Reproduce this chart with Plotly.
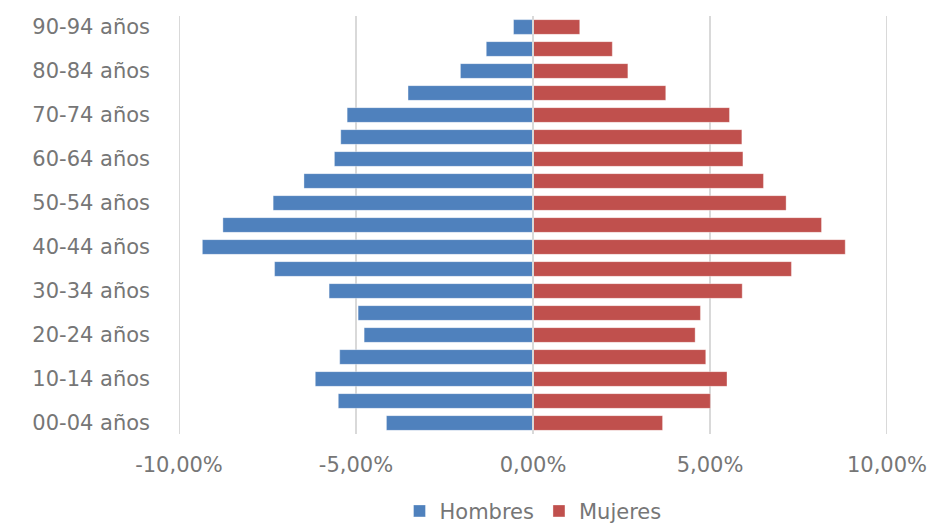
import plotly.graph_objects as go

categories = ["00-04 años", "05-09 años", "10-14 años", "15-19 años", "20-24 años",
              "25-29 años", "30-34 años", "35-39 años", "40-44 años", "45-49 años",
              "50-54 años", "55-59 años", "60-64 años", "65-69 años", "70-74 años",
              "75-79 años", "80-84 años", "85-89 años", "90-94 años"]

hombres = [-4.14, -5.50, -6.15, -5.46, -4.77, -4.94, -5.76, -7.30, -9.34, -8.76,
           -7.34, -6.47, -5.61, -5.43, -5.25, -3.53, -2.05, -1.32, -0.55]
mujeres = [3.66, 5.01, 5.48, 4.88, 4.58, 4.73, 5.91, 7.30, 8.82, 8.15,
           7.15, 6.51, 5.93, 5.90, 5.55, 3.75, 2.68, 2.24, 1.32]

x_ticks = [-10, -5, 0, 5, 10]
x_ticktext = ["-10,00%", "-5,00%", "0,00%", "5,00%", "10,00%"]
y_ticks = categories[::2]

font_family = "DejaVu Sans"
gray = "#767676"
grid = "#d9d9d9"

fig = go.Figure()
fig.add_trace(go.Bar(y=categories, x=hombres, name="Hombres", orientation="h",
                     marker=dict(color="#4F81BD", line=dict(color="rgba(255,255,255,0.35)", width=1))))
fig.add_trace(go.Bar(y=categories, x=mujeres, name="Mujeres", orientation="h",
                     marker=dict(color="#C0504D", line=dict(color="rgba(255,255,255,0.35)", width=1))))

# edge gridlines (plotly omits gridlines lying exactly on the range edges)
for xv in (x_ticks[0], x_ticks[-1]):
    fig.add_shape(type="line", xref="x", yref="paper", x0=xv, x1=xv, y0=0, y1=1,
                  line=dict(color=grid, width=2), layer="below")
fig.add_shape(type="line", xref="x", yref="paper", x0=0, x1=0, y0=0, y1=1,
              line=dict(color=grid, width=2), layer="above")

fig.update_layout(
    width=930, height=526,
    margin=dict(l=179, r=43, t=16, b=92, autoexpand=False),
    barmode="overlay", bargap=0.33,
    plot_bgcolor="white", paper_bgcolor="white",
    font=dict(family=font_family, color=gray, size=21),
    showlegend=True,
    legend=dict(orientation="h", x=0.5, xanchor="center", yref="container", y=0.028,
                yanchor="middle", font=dict(size=21, color=gray), traceorder="normal",
                itemwidth=30, tracegroupgap=0),
    xaxis=dict(range=[-10, 10], tickvals=x_ticks, ticktext=x_ticktext,
               showgrid=True, gridcolor=grid, gridwidth=2, zeroline=False,
               showline=False, ticks="", ticklabelstandoff=16, automargin=False,
               tickfont=dict(size=21, color=gray)),
    yaxis=dict(type="category", categoryorder="array", categoryarray=categories,
               tickvals=y_ticks, showgrid=False, zeroline=False, showline=False,
               ticks="", ticklabelstandoff=28, automargin=False,
               tickfont=dict(size=21, color=gray)),
)

fig.write_html("out.html")
